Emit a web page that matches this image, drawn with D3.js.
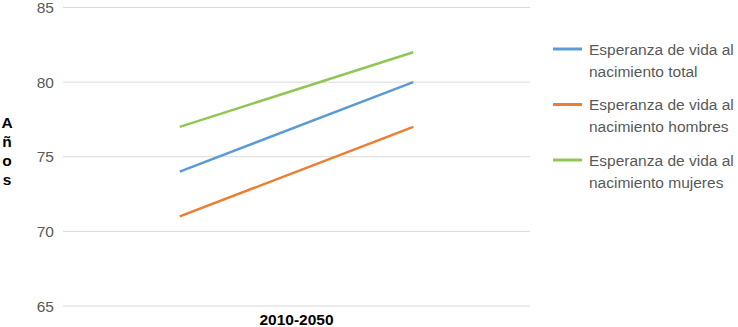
<!DOCTYPE html>
<html>
<head>
<meta charset="utf-8">
<script src="https://cdn.jsdelivr.net/npm/d3@7"></script>
<style>
  body { margin: 0; background: #fff; }
  text { font-family: "Liberation Sans", Arial, sans-serif; }
</style>
</head>
<body>
<svg width="738" height="327"></svg>
<script>
var periods = ['2010', '2050'];
var seriesNames = ['Esperanza de vida al nacimiento total', 'Esperanza de vida al nacimiento hombres', 'Esperanza de vida al nacimiento mujeres'];
var totalVals = [74, 80];
var hombresVals = [71, 77];
var mujeresVals = [77, 82];
var colors = ['#5b9bd5', '#ed7d31', '#8fc655'];
var yTicks = [65, 70, 75, 80, 85];

var svg = d3.select('svg');
var plotL = 63, plotR = 530, plotT = 7.5, plotB = 306;
var fs = '15.5px';

var x = d3.scalePoint().domain(periods).range([plotL, plotR]).padding(0.5);
var y = d3.scaleLinear().domain([65, 85]).range([plotB, plotT]);

// gridlines
svg.selectAll('line.grid').data(yTicks).enter().append('line')
  .attr('x1', plotL).attr('x2', plotR)
  .attr('y1', function(d){ return y(d) }).attr('y2', function(d){ return y(d) })
  .attr('stroke', '#d9d9d9').attr('stroke-width', 1);

svg.selectAll('text.tick').data(yTicks).enter().append('text')
  .attr('x', 54).attr('y', function(d){ return y(d) + 5.5 })
  .attr('text-anchor', 'end').attr('fill', '#595959').style('font-size', fs)
  .text(function(d){ return d });

// y title, stacked letters
var letters = 'Años'.split('');
svg.selectAll('text.ylab').data(letters).enter().append('text')
  .attr('x', 7).attr('y', function(d, i){ return 128 + i * 19 })
  .attr('text-anchor', 'middle').style('font-size', fs).style('font-weight', 'bold')
  .attr('fill', '#000')
  .text(function(d){ return d });

// x label
svg.append('text').attr('x', (plotL + plotR) / 2).attr('y', 325)
  .attr('text-anchor', 'middle').style('font-size', fs).style('font-weight', 'bold')
  .attr('fill', '#000').text('2010-2050');

var all = [totalVals, hombresVals, mujeresVals];
var line = d3.line().x(function(d, i){ return x(periods[i]) }).y(function(d){ return y(d) });

svg.selectAll('path.series').data(all).enter().append('path')
  .attr('d', line).attr('fill', 'none')
  .attr('stroke', function(d, i){ return colors[i] }).attr('stroke-width', 2.5);

// legend
var leg = svg.selectAll('g.leg').data(seriesNames).enter().append('g')
  .attr('transform', function(d, i){ return 'translate(553,' + (49 + i * 55.5) + ')' });
leg.append('line').attr('x1', 0).attr('x2', 29).attr('y1', 0).attr('y2', 0)
  .attr('stroke', function(d, i){ return colors[i] }).attr('stroke-width', 3);
leg.each(function(d){
  var words = d.split(' ');
  var g = d3.select(this);
  g.append('text').attr('x', 36).attr('y', 5.5).attr('fill', '#595959').style('font-size', fs)
    .text(words.slice(0, 4).join(' '));
  g.append('text').attr('x', 36).attr('y', 27.5).attr('fill', '#595959').style('font-size', fs)
    .text(words.slice(4).join(' '));
});
</script>
</body>
</html>
